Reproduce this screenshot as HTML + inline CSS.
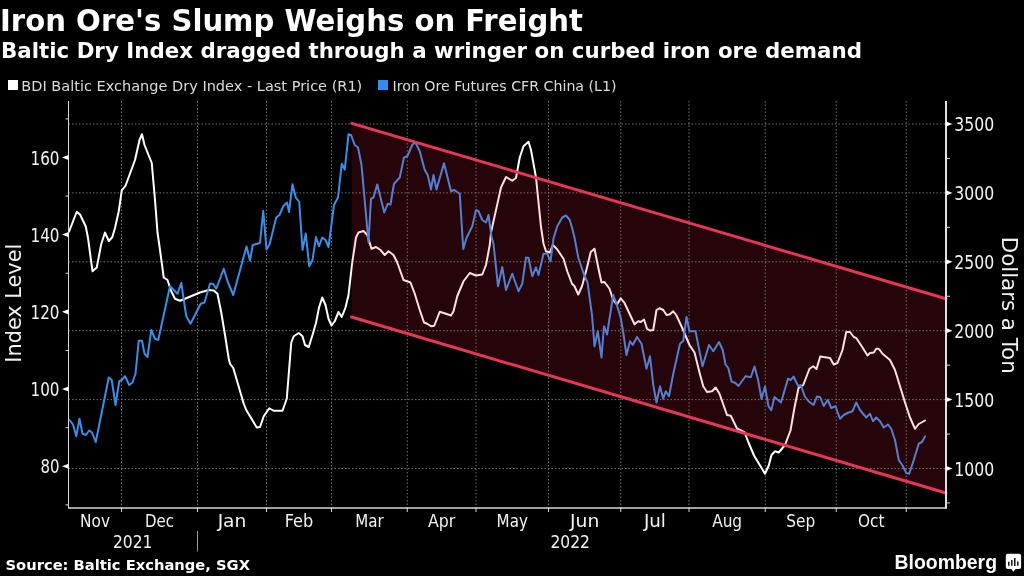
<!DOCTYPE html>
<html lang="en"><head><meta charset="utf-8"><title>Iron Ore's Slump Weighs on Freight</title>
<style>html,body{margin:0;padding:0;background:#000;}body{width:1024px;height:576px;overflow:hidden;}svg{display:block;will-change:transform;}text{font-family:'DejaVu Sans Condensed','DejaVu Sans','Liberation Sans',sans-serif;fill:#f2f2f2;} .b{font-family:'DejaVu Sans','Liberation Sans',sans-serif;font-weight:bold;fill:#fff;} .r{font-family:'DejaVu Sans','Liberation Sans',sans-serif;}</style></head><body>
<svg width="1024" height="576" viewBox="0 0 1024 576">
<rect width="1024" height="576" fill="#000"/>
<text class="b" x="0" y="31.2" font-size="29.5" textLength="583" lengthAdjust="spacingAndGlyphs">Iron Ore's Slump Weighs on Freight</text>
<text class="b" x="1" y="58" font-size="21.4" textLength="861" lengthAdjust="spacingAndGlyphs">Baltic Dry Index dragged through a wringer on curbed iron ore demand</text>
<rect x="8" y="80" width="10" height="10" fill="#fff"/>
<text class="r" x="21.3" y="91" font-size="14.6" style="fill:#dcdcdc" textLength="341" lengthAdjust="spacingAndGlyphs">BDI Baltic Exchange Dry Index - Last Price (R1)</text>
<rect x="378" y="80" width="10" height="10" fill="#2f8df0"/>
<text class="r" x="392.5" y="91" font-size="14.6" style="fill:#dcdcdc" textLength="224" lengthAdjust="spacingAndGlyphs">Iron Ore Futures CFR China (L1)</text>
<path d="M121.5 101V508M197.5 101V508M266.5 101V508M331.5 101V508M407.25 101V508M476 101V508M548.5 101V508M620.75 101V508M689 101V508M765.25 101V508M836.25 101V508M906.25 101V508M68.5 124H946M68.5 192.9H946M68.5 261.8H946M68.5 330.7H946M68.5 399.6H946M68.5 468.5H946" stroke="#727272" stroke-width="1" stroke-dasharray="1.5 2" fill="none"/>
<polyline points="69,231.75 76.75,211.75 80,214.5 85.75,226.5 88,238 92.5,271.25 96.75,267.5 101.25,244 105,232.5 108.75,241 112.25,237.25 115,228 118.75,211.25 121.75,190.5 125.5,185.75 135,160 139.5,140 142,134.25 144.5,145 151.75,163 155,200 157.5,232.5 160,250 163.75,277.5 167.5,280 171.25,291.25 175,298.75 180,300.75 185,298.75 200,292.5 208.75,290 213.75,290.5 217.5,293.75 221.25,312.5 225,335 228.75,358.75 230,363.75 233.25,368 243.75,403.75 246.25,410 256.75,427.5 260,427 263.75,416.25 269.25,408.25 273.75,410.75 282.5,410.75 286.75,398.75 288.75,374 291.25,342.5 293.75,336.25 298.75,333 302.5,336.25 305,345 308.75,347 312.5,335 316,323 319,307.5 322.25,297.5 325.5,305 328.5,318.75 331.5,325.5 334.75,321.25 338.5,312 341.75,317 345.5,307.5 348.5,295 352.25,262.5 356,237.5 358.5,232.5 363.5,231 367.25,235 371.5,248.75 376,247 380.5,250 384.75,255 388.5,251.25 393.5,255 397.25,262.5 403.5,280 410.5,282.5 414.75,293.75 419.75,310 424,322.5 427.25,323.75 431,326.25 434.25,325.75 439.75,311.75 446,313.75 451,315.5 453.5,311.25 457.25,296.25 463.5,281.25 469.75,273 476,275.5 482.25,274.5 486,265 489.75,245 491,232.5 496,210 501,187.5 506,177 512.25,180.75 516,178 519.75,157.5 523.5,146.25 528.5,141.75 531,150 536,177.5 541,227 543.5,243.75 546,251.25 549.75,252.5 553,245 557.25,249.5 563.5,258.75 567.25,271.25 572,283.75 574.5,286.25 578.25,294.5 582,286.25 587,267.5 590.75,252 594.5,248.75 598.25,267.5 601.5,282.5 604.5,282 609.5,288.75 613.25,300 617,304.5 620.75,298.25 624.5,303 634.5,324.25 638.25,321.25 640.75,322 644,319.5 647,328.75 650,330.5 653.25,330 656.5,310 659.5,308.25 663.25,310 666.5,315 669.5,314.5 673.25,311.25 676.5,315.5 682,327.5 689.5,345 694.5,352.5 699.5,372.5 703.25,386.25 707,392 712,391.25 715.75,387.5 719.5,393.75 727,415 730.75,415.75 737,428.5 744.5,432.25 748.5,442.5 754,455.5 761.25,467.5 765,473.75 768.75,465.5 771.5,455 775,451.25 778.75,452.5 785,445 790.5,430.5 794.5,407.5 798.5,388 803.25,385 809.5,368.75 813.25,366.25 816.5,369 820.25,356.5 830,358 833.75,364.5 837.5,363 842.5,350 846.25,332 850,332 853.75,337 856.25,338 862.5,347.5 867.5,355.5 870,353 873.75,352.5 876.25,348.75 878.75,348.75 882.5,353.75 890,360 895,370 900,386.25 905,402.5 910,417.5 915,428.75 918.75,424 925,420.5" fill="none" stroke="#ffffff" stroke-width="2" stroke-linejoin="round" stroke-linecap="round"/>
<polyline points="69.5,420 73,424.5 76.25,436.25 79.5,418.75 82.5,433.75 85.75,435 89.25,430.5 92,432.5 95.75,442 108.75,377.5 111.75,380 115.5,405 119.25,381.25 121.75,380 125,376.25 129.25,385 132.5,382.5 135.5,373.75 138.75,340.75 142,340.75 144.5,353.75 147.5,357 151.25,330 155,338.75 158.25,340 170,286.25 177.5,293.75 181.25,283 186.25,316.25 190.5,323.75 200.75,303.75 204.5,302.5 210,283.75 213,283.75 216.25,288.75 223.75,268.75 227.5,281.25 233.25,295 246.5,246.5 250,260.5 252.75,245 260,243 263.25,210.75 266.5,249.5 269.5,244.5 276.25,217.5 279.5,215 283.25,206.25 287,202.5 289,212 292.5,184.25 295.75,197.5 299.25,202 302.5,250 305.75,233.5 309.25,266.25 312.5,260 316,237 319,246.25 322.25,237.5 325.5,240 328.5,247 334,205 338,197.5 341.75,163.75 344.75,169.5 348.5,134.25 351,135 354.75,145 358,147.5 361.5,165 368.5,242.5 371,198.75 373.5,197.5 377.25,184.5 384.25,212.5 387.75,203.75 390.5,204.5 394,183.75 399.75,177.5 404,157.5 407.25,156.25 412.25,145 415.25,142 419.75,151.25 424.75,170 427.75,175 431,189.5 433.5,175 436.5,189.5 444,163.25 451,191.25 454.25,190 459.75,193.75 463.25,249 466.5,238 472.25,226.25 476,210 478.5,211.25 482.25,220 486,222.5 488.5,215 491.5,236.5 493.5,244 498,286.25 502.25,267 506,290 512.25,273.75 518.5,291.25 522.25,283.75 526,257.5 528.5,258 532.25,276.25 536,267.5 538.5,275 543.5,253.75 547.25,253.75 550.5,261.25 553.5,238.5 557.25,226.25 562.25,217.5 566,215.5 569.75,220 572,227.5 574.5,237.5 578.25,257.5 583.25,272.5 587.5,282.5 592,315 594.5,346.25 597.75,331.25 601.5,357.5 604,326.25 607,334.5 613.25,295 616.5,303.75 620.75,318 623.25,332.5 626.5,355 630,341.25 632.75,345 637,337 641.5,343.75 646.5,368.75 650,356.25 653.25,385 656.5,402.5 660,386.25 663.25,398.75 665.75,391.25 669,396.25 673.25,373.75 680,343.75 683.25,341 686.5,317 689.5,331.25 695.5,331.25 702.5,366.25 709,345 713.25,351.25 719,342 722.75,350 725.5,364.5 728.25,368 731.5,381.5 735.5,383 738.5,386 745.5,376.25 750.75,377.25 754.5,366.5 758,379.5 761.5,399 765,386.5 768.5,406.25 771.25,410.25 774.5,397 781,402.5 788,378.75 790.75,380 793.5,376.5 798.25,386.25 800.75,385 804.75,396.25 808.5,401.25 813.5,405 817,396.5 820.25,397.25 823.75,406 827.75,400 831.25,408 835.5,406.25 840,418.75 843.75,415 847.5,413 852.5,411.25 856.25,402.5 860,410 866.25,417.5 870,413.75 873,421.25 876.25,417.5 880,421.25 883.75,427.5 888,424.5 891.25,428.75 895,440 898.75,460 902.5,465.5 906.25,473 909.25,473.75 913.75,460 918.75,443.75 922,442 925,436.5" fill="none" stroke="#3a8ee8" stroke-width="2" stroke-linejoin="round" stroke-linecap="round"/>
<polygon points="351.8,123.3 946,298.75 946,493 351.5,317" fill="#ff2040" fill-opacity="0.145"/>
<path d="M351.8 123.3L946 298.75M351.5 317L946 493" stroke="#ea3558" stroke-width="2.9" stroke-linecap="round" fill="none"/>
<path d="M68.5 101V508" stroke="#d8d8d8" stroke-width="1" fill="none"/>
<path d="M68.0 508H947" stroke="#d8d8d8" stroke-width="1.5" fill="none"/>
<path d="M946 101V508.5" stroke="#e0e0e0" stroke-width="2" fill="none"/>
<text x="30.5" y="164.5" font-size="18.7" textLength="29" lengthAdjust="spacingAndGlyphs">160</text>
<text x="30.5" y="241.6" font-size="18.7" textLength="29" lengthAdjust="spacingAndGlyphs">140</text>
<text x="30.5" y="318.8" font-size="18.7" textLength="29" lengthAdjust="spacingAndGlyphs">120</text>
<text x="30.5" y="396" font-size="18.7" textLength="29" lengthAdjust="spacingAndGlyphs">100</text>
<text x="40.5" y="473.25" font-size="18.7" textLength="19" lengthAdjust="spacingAndGlyphs">80</text>
<path d="M68.5 154.9L62.0 157.5L68.5 160.1Z" fill="#fff"/>
<path d="M68.5 232L62.0 234.6L68.5 237.2Z" fill="#fff"/>
<path d="M68.5 309.2L62.0 311.8L68.5 314.4Z" fill="#fff"/>
<path d="M68.5 386.4L62.0 389L68.5 391.6Z" fill="#fff"/>
<path d="M68.5 463.65L62.0 466.25L68.5 468.85Z" fill="#fff"/>
<path d="M65.5 118.906H68.5M65.5 196.094H68.5M65.5 273.281H68.5M65.5 350.469H68.5M65.5 427.656H68.5M65.5 504.844H68.5" stroke="#d8d8d8" stroke-width="1" fill="none"/>
<path d="M946 121.4L952.5 124L946 126.6Z" fill="#fff"/>
<text x="954.3" y="131" font-size="18.7" textLength="40" lengthAdjust="spacingAndGlyphs">3500</text>
<path d="M946 190.3L952.5 192.9L946 195.5Z" fill="#fff"/>
<text x="954.3" y="199.9" font-size="18.7" textLength="40" lengthAdjust="spacingAndGlyphs">3000</text>
<path d="M946 259.2L952.5 261.8L946 264.4Z" fill="#fff"/>
<text x="954.3" y="268.8" font-size="18.7" textLength="40" lengthAdjust="spacingAndGlyphs">2500</text>
<path d="M946 328.1L952.5 330.7L946 333.3Z" fill="#fff"/>
<text x="954.3" y="337.7" font-size="18.7" textLength="40" lengthAdjust="spacingAndGlyphs">2000</text>
<path d="M946 397L952.5 399.6L946 402.2Z" fill="#fff"/>
<text x="954.3" y="406.6" font-size="18.7" textLength="40" lengthAdjust="spacingAndGlyphs">1500</text>
<path d="M946 465.9L952.5 468.5L946 471.1Z" fill="#fff"/>
<text x="954.3" y="475.5" font-size="18.7" textLength="40" lengthAdjust="spacingAndGlyphs">1000</text>
<path d="M946 158.45h4M946 227.35h4M946 296.25h4M946 365.15h4M946 434.05h4M946 502.95h4" stroke="#d8d8d8" stroke-width="1" fill="none"/>
<path d="M121.5 508v4M197.5 508v4M266.5 508v4M331.5 508v4M407.25 508v4M476 508v4M548.5 508v4M620.75 508v4M689 508v4M765.25 508v4M836.25 508v4M906.25 508v4" stroke="#d8d8d8" stroke-width="1" fill="none"/>
<text x="80" y="526.8" font-size="18.5" textLength="30" lengthAdjust="spacingAndGlyphs">Nov</text>
<text x="145" y="526.8" font-size="18.5" textLength="29" lengthAdjust="spacingAndGlyphs">Dec</text>
<text x="217.625" y="526.8" font-size="18.5" textLength="28.75" lengthAdjust="spacingAndGlyphs">Jan</text>
<text x="284.75" y="526.8" font-size="18.5" textLength="28.5" lengthAdjust="spacingAndGlyphs">Feb</text>
<text x="355.125" y="526.8" font-size="18.5" textLength="28.5" lengthAdjust="spacingAndGlyphs">Mar</text>
<text x="427.975" y="526.8" font-size="18.5" textLength="27.3" lengthAdjust="spacingAndGlyphs">Apr</text>
<text x="496.6" y="526.8" font-size="18.5" textLength="31.3" lengthAdjust="spacingAndGlyphs">May</text>
<text x="569.975" y="526.8" font-size="18.5" textLength="29.3" lengthAdjust="spacingAndGlyphs">Jun</text>
<text x="643.875" y="526.8" font-size="18.5" textLength="22" lengthAdjust="spacingAndGlyphs">Jul</text>
<text x="712.125" y="526.8" font-size="18.5" textLength="30" lengthAdjust="spacingAndGlyphs">Aug</text>
<text x="786.25" y="526.8" font-size="18.5" textLength="29" lengthAdjust="spacingAndGlyphs">Sep</text>
<text x="858" y="526.8" font-size="18.5" textLength="26.5" lengthAdjust="spacingAndGlyphs">Oct</text>
<text x="113" y="548" font-size="18.5" textLength="39.5" lengthAdjust="spacingAndGlyphs">2021</text>
<text x="550.5" y="548" font-size="18.5" textLength="39.5" lengthAdjust="spacingAndGlyphs">2022</text>
<path d="M197.5 531V551.5" stroke="#9a9a9a" stroke-width="1" fill="none"/>
<text class="r" transform="translate(21,362.7) rotate(-90)" font-size="21" textLength="119" lengthAdjust="spacingAndGlyphs">Index Level</text>
<text class="r" transform="translate(1001.5,236.7) rotate(90)" font-size="21" textLength="137" lengthAdjust="spacingAndGlyphs">Dollars a Ton</text>
<text class="b" x="5.5" y="569.5" font-size="13.8" textLength="244.5" lengthAdjust="spacingAndGlyphs">Source: Baltic Exchange, SGX</text>
<text x="894.5" y="568.7" font-size="19.6" font-weight="bold" style="font-family:'Liberation Sans',sans-serif;fill:#fff" textLength="102.5" lengthAdjust="spacingAndGlyphs">Bloomberg</text>
<path d="M1007.8 553.8h11.3a2 2 0 0 1 2 2v11.3a2 2 0 0 1-2 2h-3.5l-2.2 2.6l-2.2-2.6h-3.4a2 2 0 0 1-2-2v-11.3a2 2 0 0 1 2-2z" fill="#fff"/>
<path d="M1008.8 561.8V565.8M1011.8 559.9V565.8M1014.8 558V565.9M1017.8 561.6V565.8" stroke="#000" stroke-width="1.4" fill="none"/>
</svg></body></html>
